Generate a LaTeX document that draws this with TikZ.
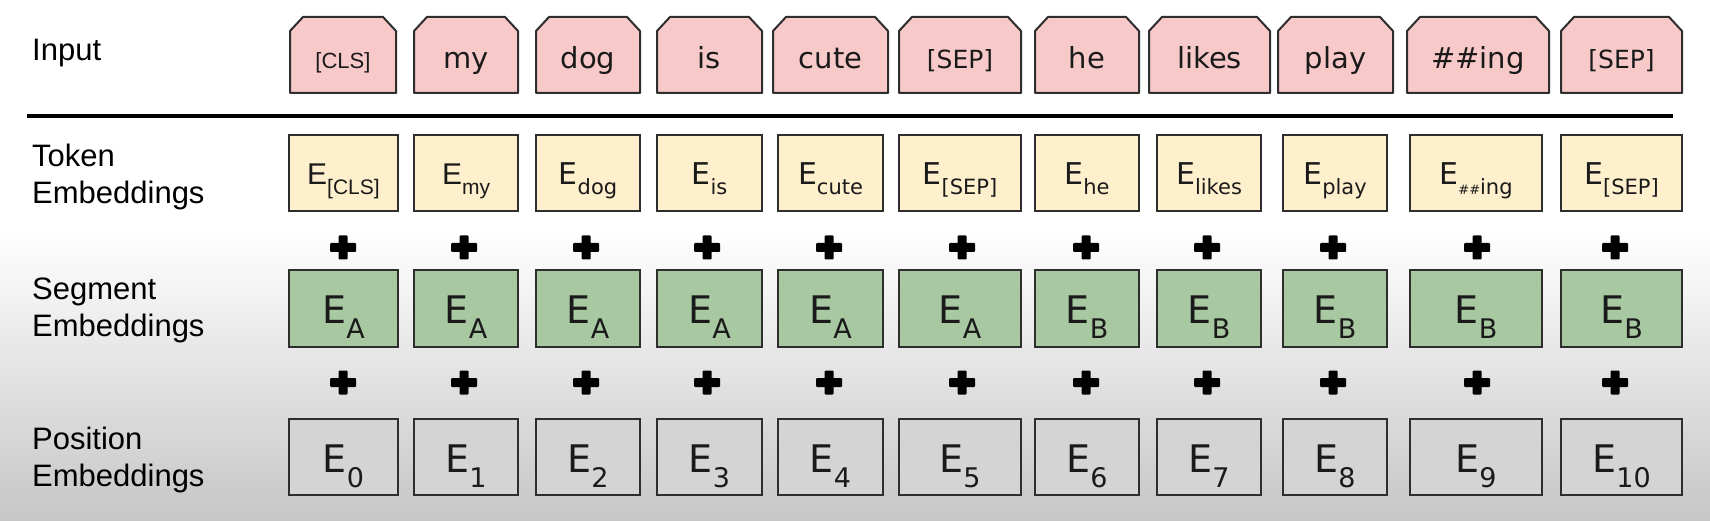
\documentclass[tikz,border=0pt]{standalone}
\usepackage{fontspec}
\setmainfont{DejaVu Sans}
\newfontfamily\arialf{Liberation Sans}
\usetikzlibrary{backgrounds}
\definecolor{infill}{HTML}{F8C9C9}
\definecolor{tokfill}{HTML}{FFF0CD}
\definecolor{segfill}{HTML}{A7C8A0}
\definecolor{posfill}{HTML}{D4D4D4}
\definecolor{boxline}{HTML}{2E2E2E}
\definecolor{bgbottom}{HTML}{C6C6C6}
\definecolor{txt}{HTML}{1A1A1A}
\newcommand\Etk[1]{{\fontsize{30}{30}\selectfont E}\raisebox{-10pt}{\fontsize{21}{21}\selectfont #1}}
\newcommand\Ebig[1]{{\fontsize{38}{38}\selectfont E}\raisebox{-15pt}{\fontsize{27}{27}\selectfont #1}}
\tikzset{
  boxbase/.style={inner sep=0pt, outer sep=0pt, minimum height=76pt, text=txt},
  inbox/.style={boxbase, minimum width=#1, text height=30pt, text depth=3pt, font=\fontsize{29}{29}\selectfont},
  tokbox/.style={boxbase, minimum width=#1, draw=boxline, line width=2pt, fill=tokfill, text height=27pt, text depth=3pt},
  segbox/.style={boxbase, minimum width=#1, draw=boxline, line width=2pt, fill=segfill, text height=32pt, text depth=3pt},
  posbox/.style={boxbase, minimum width=#1, draw=boxline, line width=2pt, fill=posfill, text height=34pt, text depth=3pt},
  rowlabel/.style={font=\arialf\fontsize{31}{37}\selectfont, align=left, inner sep=0pt, text=black},
  plussign/.style={inner sep=0pt, outer sep=0pt, minimum width=26pt, minimum height=24pt,
    path picture={
      \fill[black, rounded corners=1pt] ([xshift=-13pt,yshift=-4.5pt]path picture bounding box.center) rectangle ([xshift=13pt,yshift=4.5pt]path picture bounding box.center);
      \fill[black, rounded corners=1pt] ([xshift=-4.5pt,yshift=-12pt]path picture bounding box.center) rectangle ([xshift=4.5pt,yshift=12pt]path picture bounding box.center);
    }},
  separator/.style={line width=4.5pt, black}
}
\begin{document}
\begin{tikzpicture}[x=1pt,y=-1pt]
\useasboundingbox (0,0) rectangle (1710,521);

% row labels
\node[rowlabel, anchor=base west] (lin) at (32,61) {Input};
\node[rowlabel, anchor=west] (ltok) at (32,176.5) {Token\\Embeddings};
\node[rowlabel, anchor=west] (lseg) at (32,310.5) {Segment\\Embeddings};
\node[rowlabel, anchor=west] (lpos) at (32,459.5) {Position\\Embeddings};

% separator
\coordinate (sepL) at (27,116);
\coordinate (sepR) at (1673,116);
\draw[separator] (sepL) -- (sepR);

% input row
\node[inbox=106pt] (in0) at (343,55) {\arialf\fontsize{22}{22}\selectfont [CLS]};
\node[inbox=104pt] (in1) at (466,55) {my};
\node[inbox=104pt] (in2) at (588,55) {dog};
\node[inbox=105pt] (in3) at (709.5,55) {is};
\node[inbox=115pt] (in4) at (830.5,55) {cute};
\node[inbox=122pt] (in5) at (960,55) {\fontsize{25}{25}\selectfont [SEP]};
\node[inbox=104pt] (in6) at (1087,55) {he};
\node[inbox=121pt] (in7) at (1209.5,55) {likes};
\node[inbox=115pt] (in8) at (1335.5,55) {play};
\node[inbox=142pt] (in9) at (1478,55) {\#\#ing};
\node[inbox=121pt] (in10) at (1621.5,55) {\fontsize{25}{25}\selectfont [SEP]};

% token embeddings
\node[tokbox=109pt] (tok0) at (343.5,173) {\arialf\Etk{[CLS]}};
\node[tokbox=104pt] (tok1) at (466,173) {\arialf\Etk{my}};
\node[tokbox=104pt] (tok2) at (588,173) {\Etk{dog}};
\node[tokbox=105pt] (tok3) at (709.5,173) {\Etk{is}};
\node[tokbox=105pt] (tok4) at (830.5,173) {\Etk{cute}};
\node[tokbox=122pt] (tok5) at (960,173) {\Etk{[SEP]}};
\node[tokbox=104pt] (tok6) at (1087,173) {\Etk{he}};
\node[tokbox=104pt] (tok7) at (1209,173) {\Etk{likes}};
\node[tokbox=104pt] (tok8) at (1335,173) {\Etk{play}};
\node[tokbox=132pt] (tok9) at (1476,173) {\Etk{{\fontsize{13}{13}\selectfont\#\#}ing}};
\node[tokbox=121pt] (tok10) at (1621.5,173) {\Etk{[SEP]}};

% segment and position embeddings
\foreach \i/\cx/\w/\s in {0/343.5/109/A, 1/466/104/A, 2/588/104/A, 3/709.5/105/A, 4/830.5/105/A, 5/960/122/A, 6/1087/104/B, 7/1209/104/B, 8/1335/104/B, 9/1476/132/B, 10/1621.5/121/B}{
  \node[segbox=\w pt] (seg\i) at (\cx,308.5) {\Ebig{\s}};
  \node[posbox=\w pt] (pos\i) at (\cx,456.5) {\Ebig{\i}};
}

% plus signs
\foreach \i/\px in {0/343, 1/464, 2/586, 3/707, 4/829, 5/962, 6/1086, 7/1207, 8/1333, 9/1477, 10/1615}{
  \node[plussign] (plusA\i) at (\px,247.5) {};
  \node[plussign] (plusB\i) at (\px,382.5) {};
}

\begin{pgfonlayer}{background}
  \fill[white] (0,0) rectangle (1710,231);
  \shade[top color=white, bottom color=bgbottom] (0,230) rectangle (1710,521);
  \foreach \i in {0,...,10}{
    \filldraw[fill=infill, draw=boxline, line width=2pt, line join=round]
      (in\i.south west) -- ([yshift=-14pt]in\i.north west) -- ([xshift=13pt]in\i.north west)
      -- ([xshift=-13pt]in\i.north east) -- ([yshift=-14pt]in\i.north east) -- (in\i.south east) -- cycle;
  }
\end{pgfonlayer}
\end{tikzpicture}
\end{document}
